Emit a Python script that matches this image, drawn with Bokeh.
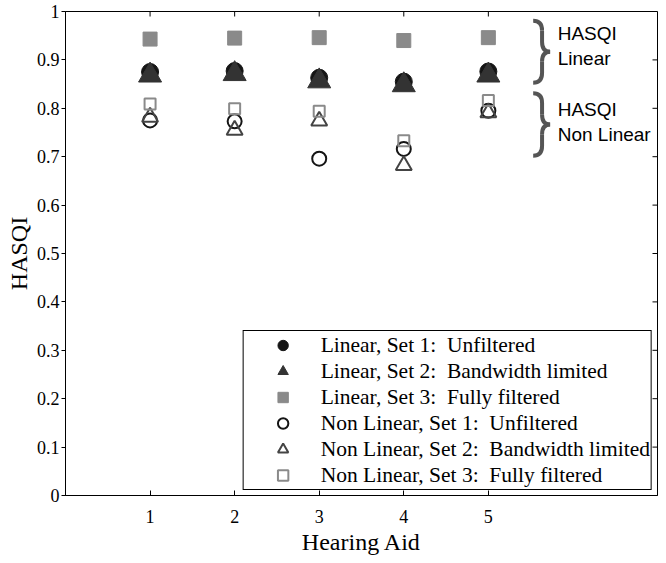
import math
from bokeh.plotting import figure
from bokeh.models import (Legend, LegendItem, FixedTicker,
                          CustomJSTickFormatter, ColumnDataSource, Range1d)
from bokeh.core.properties import value
from bokeh.embed import file_html
from bokeh.resources import INLINE

# ---- data ----
hearing_aid = [1, 2, 3, 4, 5]
lin_set1 = [0.875, 0.877, 0.863, 0.855, 0.876]
lin_set2 = [0.868, 0.871, 0.856, 0.848, 0.868]
lin_set3 = [0.943, 0.945, 0.946, 0.940, 0.946]
nl_set1 = [0.775, 0.773, 0.696, 0.716, 0.795]
nl_set2 = [0.782, 0.755, 0.774, 0.682, 0.791]
nl_set3 = [0.809, 0.799, 0.794, 0.733, 0.816]

y_ticks = [0, 0.1, 0.2, 0.3, 0.4, 0.5, 0.6, 0.7, 0.8, 0.9, 1]
x_ticks = [1, 2, 3, 4, 5]
x_max = 7
y_max = 1

legend_labels = [
    "Linear, Set 1:\u00a0 Unfiltered",
    "Linear, Set 2:\u00a0 Bandwidth limited",
    "Linear, Set 3:\u00a0 Fully filtered",
    "Non Linear, Set 1:\u00a0 Unfiltered",
    "Non Linear, Set 2:\u00a0 Bandwidth limited",
    "Non Linear, Set 3:\u00a0 Fully filtered",
]

# brace annotations (group label, top, bottom)
brace_groups = [("HASQI", "Linear", 0.981, 0.853), ("HASQI", "Non Linear", 0.831, 0.702)]

SERIF = "Liberation Serif"

p = figure(width=666, height=563, output_backend="svg", toolbar_location=None,
           x_range=Range1d(0, x_max), y_range=Range1d(0, y_max),
           min_border_left=65, min_border_right=9, min_border_top=11, min_border_bottom=68)
p.xgrid.visible = False
p.ygrid.visible = False
p.outline_line_color = "black"
p.outline_line_width = 1
p.background_fill_color = "white"
p.border_fill_color = "white"

src = ColumnDataSource(dict(x=hearing_aid, l1=lin_set1, l2=lin_set2, l3=lin_set3,
                            n1=nl_set1, n2=nl_set2, n3=nl_set3))

r_l1 = p.scatter("x", "l1", source=src, marker="circle", size=17,
                 fill_color="#151515", line_color="#151515")
r_l2 = p.scatter("x", "l2", source=src, marker="triangle", size=23,
                 fill_color="#333333", line_color="#333333")
r_l3 = p.scatter("x", "l3", source=src, marker="square", size=14,
                 fill_color="#8a8a8a", line_color="#8a8a8a")
r_n1 = p.scatter("x", "n1", source=src, marker="circle", size=14,
                 fill_color=None, line_color="#151515", line_width=2)
r_n2 = p.scatter("x", "n2", source=src, marker="triangle", size=16,
                 fill_color=None, line_color="#444444", line_width=2)
r_n3 = p.scatter("x", "n3", source=src, marker="square", size=11,
                 fill_color=None, line_color="#8a8a8a", line_width=2)

renderers = [r_l1, r_l2, r_l3, r_n1, r_n2, r_n3]
legend = Legend(items=[LegendItem(label=lab, renderers=[r]) for lab, r in zip(legend_labels, renderers)],
                location="bottom_right", margin=5, padding=1,
                glyph_width=76, glyph_height=26, spacing=0, label_height=20,
                label_standoff=0,
                label_text_font=SERIF, label_text_font_size="21.5px",
                label_text_color="black",
                border_line_color="black", border_line_width=1, border_line_alpha=1,
                background_fill_color="white", background_fill_alpha=1)
p.add_layout(legend)

# mirrored inner ticks on the top and right edges
p.ray(x=x_ticks, y=[y_max] * len(x_ticks), length=5, length_units="screen",
      angle=-math.pi / 2, line_color="black", line_width=1)
p.ray(x=[x_max] * len(y_ticks), y=y_ticks, length=5, length_units="screen",
      angle=math.pi, line_color="black", line_width=1)

# braces
bx0, bxm, bxt = 5.53, 5.635, 5.73
for _, _, yt, yb in brace_groups:
    ym = (yt + yb) / 2
    d = 0.02
    p.quadratic(x0=[bx0, bxm, bxm, bx0], y0=[yt, ym + d, ym - d, yb],
                x1=[bxm, bxt, bxt, bxm], y1=[yt - d, ym, ym, yb + d],
                cx=[bxm, bxm, bxm, bxm], cy=[yt, ym, ym, yb],
                line_color="#555555", line_width=4)
    p.segment(x0=[bxm, bxm], y0=[yt - d, ym - d], x1=[bxm, bxm], y1=[ym + d, yb + d],
              line_color="#555555", line_width=4)

tx = 5.82
txt_src = ColumnDataSource(dict(
    x=[tx, tx, tx, tx],
    y=[brace_groups[0][2] - 0.027, brace_groups[0][2] - 0.079,
       brace_groups[1][2] - 0.033, brace_groups[1][2] - 0.085],
    t=[brace_groups[0][0], brace_groups[0][1], brace_groups[1][0], brace_groups[1][1]]))
p.text("x", "y", text="t", source=txt_src, text_font=value("Liberation Sans"),
       text_font_size="19px", text_align="left", text_baseline="middle", text_color="black")

# axes
fmt = CustomJSTickFormatter(code="return (Math.round(tick*10)/10).toString();")
p.yaxis.ticker = FixedTicker(ticks=y_ticks)
p.yaxis.formatter = fmt
p.yaxis.major_tick_out = 4
p.yaxis.major_tick_in = 0
p.yaxis.minor_tick_out = 0
p.yaxis.minor_tick_in = 0
p.yaxis.major_label_standoff = 2
p.yaxis.axis_label = "HASQI"
p.yaxis.axis_label_standoff = 2

p.xaxis.ticker = FixedTicker(ticks=x_ticks)
p.xaxis.major_tick_out = 0
p.xaxis.major_tick_in = 5
p.xaxis.minor_tick_out = 0
p.xaxis.minor_tick_in = 0
p.xaxis.major_label_standoff = 14
p.xaxis.axis_label = "Hearing Aid"
p.xaxis.axis_label_standoff = 3

for ax in [p.xaxis[0], p.yaxis[0]]:
    ax.major_label_text_font = SERIF
    ax.major_label_text_font_size = "18px"
    ax.major_label_text_color = "black"
    ax.axis_label_text_font = SERIF
    ax.axis_label_text_font_size = "24px"
    ax.axis_label_text_font_style = "normal"
    ax.axis_label_text_color = "black"
    ax.axis_line_color = "black"
    ax.major_tick_line_color = "black"

open("out.html", "w").write(file_html(p, INLINE))
